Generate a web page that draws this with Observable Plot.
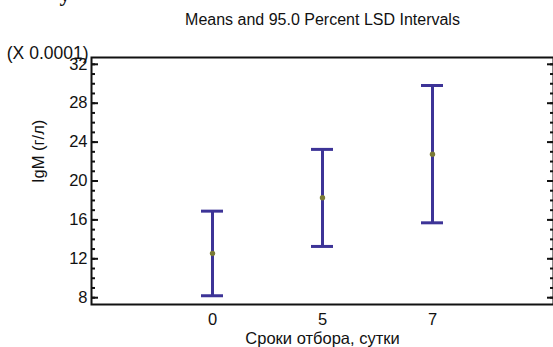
<!DOCTYPE html>
<html>
<head>
<meta charset="utf-8">
<script src="https://cdn.jsdelivr.net/npm/d3@7"></script>
<script src="https://cdn.jsdelivr.net/npm/@observablehq/plot@0.6"></script>
<style>
  html, body { margin: 0; padding: 0; background: #fff; }
  svg { display: block; }
</style>
</head>
<body>
<div id="chart"></div>
<script>
const days = ["0", "5", "7"];
const means = [12.55, 18.28, 22.75];
const lower = [8.2, 13.27, 15.7];
const upper = [16.9, 23.25, 29.82];
const majorTicks = [8, 12, 16, 20, 24, 28, 32];
const minorTicks = d3.range(8, 33, 1);
const titleText = "Means and 95.0 Percent LSD Intervals";
const scaleNote = "(X 0.0001)";
const yLabel = "IgM (г/л)";
const xLabel = "Сроки отбора, сутки";

const data = days.map((d, i) => ({day: d, mean: means[i], lo: lower[i], hi: upper[i]}));

const barColor = "#3d3497";
const dotColor = "#7a7a36";
const font = "'Liberation Sans', Arial, sans-serif";

const chart = Plot.plot({
  width: 553,
  height: 347,
  marginTop: 57,
  marginBottom: 43,
  marginLeft: 91,
  marginRight: 0,
  style: {fontFamily: font, fontSize: "16px", color: "#111", background: "#fff"},
  x: {type: "band", domain: days, paddingInner: 0.8, paddingOuter: 1.0, axis: null},
  y: {domain: [7.3, 32.7], axis: null},
  marks: [
    Plot.axisY({ticks: minorTicks, tickSize: -4, text: null, stroke: "#111", strokeWidth: 2, label: null}),
    Plot.axisY({ticks: majorTicks, tickSize: -7, text: null, stroke: "#111", strokeWidth: 2, label: null}),
    Plot.axisY({anchor: "right", ticks: minorTicks, tickSize: -4, text: null, stroke: "#111", strokeWidth: 2, label: null}),
    Plot.axisY({anchor: "right", ticks: majorTicks, tickSize: -7, text: null, stroke: "#111", strokeWidth: 2, label: null}),
    Plot.axisY({ticks: majorTicks, tickSize: 0, tickPadding: 4, fontSize: 16.5, label: null}),
    Plot.axisX({tickSize: 0, tickPadding: 9, fontSize: 16.5, label: null}),
    Plot.frame({stroke: "#111", strokeWidth: 2}),
    Plot.ruleX(data, {x: "day", y1: "lo", y2: "hi", stroke: barColor, strokeWidth: 3}),
    Plot.tickY(data, {x: "day", y: "lo", stroke: barColor, strokeWidth: 3}),
    Plot.tickY(data, {x: "day", y: "hi", stroke: barColor, strokeWidth: 3}),
    Plot.dot(data, {x: "day", y: "mean", r: 2.7, fill: dotColor, stroke: "none"}),
    Plot.text([titleText], {frameAnchor: "top", dy: -38, lineAnchor: "middle", fontSize: 16, fill: "#111"}),
    Plot.text([scaleNote], {frameAnchor: "top-left", dx: -3, dy: -4, lineAnchor: "middle", textAnchor: "end", fontSize: 17.5, fill: "#111"}),
    Plot.text([yLabel], {frameAnchor: "left", dx: -53, dy: 2, lineAnchor: "middle", rotate: -90, fontSize: 16.5, fill: "#111"}),
    Plot.text([xLabel], {frameAnchor: "bottom", dy: 34, lineAnchor: "middle", fontSize: 16.5, fill: "#111"}),
    Plot.text(["у"], {frameAnchor: "top-left", dx: -32, dy: -64, lineAnchor: "middle", fontSize: 22, fontWeight: "bold", fontFamily: "'Liberation Serif', serif", fill: "#111"})
  ]
});
document.getElementById("chart").appendChild(chart);
</script>
</body>
</html>
